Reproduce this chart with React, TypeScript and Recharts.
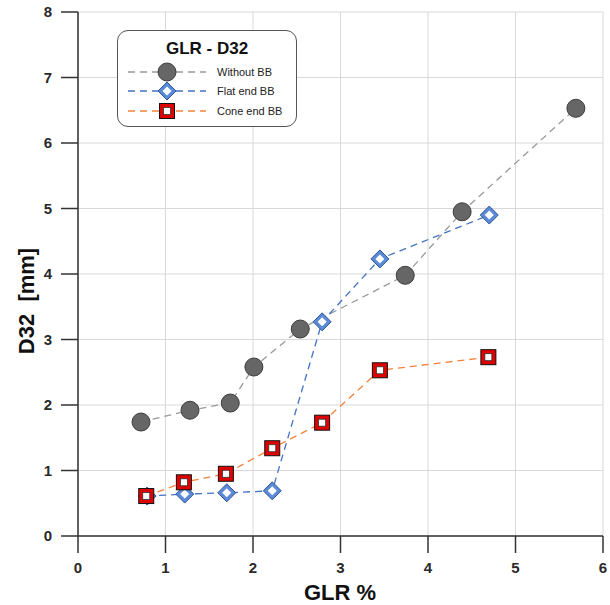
import { ScatterChart, Scatter, XAxis, YAxis, CartesianGrid, Legend, Label } from 'recharts';

// GLR % (x) and D32 mm (y) for each configuration
const withoutX = [0.72, 1.28, 1.74, 2.01, 2.54, 3.74, 4.39, 5.69];
const withoutY = [1.74, 1.92, 2.03, 2.58, 3.16, 3.98, 4.95, 6.53];

const flatX = [0.79, 1.22, 1.70, 2.22, 2.79, 3.45, 4.70];
const flatY = [0.61, 0.64, 0.66, 0.69, 3.27, 4.23, 4.90];

const coneX = [0.78, 1.21, 1.69, 2.22, 2.79, 3.45, 4.69];
const coneY = [0.61, 0.82, 0.95, 1.34, 1.73, 2.53, 2.73];

const xTicks = [0, 1, 2, 3, 4, 5, 6];
const yTicks = [0, 1, 2, 3, 4, 5, 6, 7, 8];

const toPoints = (xs: number[], ys: number[]) => xs.map((x, i) => ({ x, y: ys[i] }));

const withoutData = toPoints(withoutX, withoutY);
const flatData = toPoints(flatX, flatY);
const coneData = toPoints(coneX, coneY);

const FONT = "Arial, 'Liberation Sans', sans-serif";
const AXIS = '#333';

const Circle = ({ cx, cy }: any) => (
  <circle cx={cx} cy={cy} r={9} fill="#666" stroke="#3c3c3c" strokeWidth={1} />
);

const Diamond = ({ cx, cy }: any) => (
  <g>
    <path d={`M${cx},${cy - 9} L${cx + 9},${cy} L${cx},${cy + 9} L${cx - 9},${cy} Z`} fill="#5b8bd8" stroke="#2f5597" strokeWidth={1} />
    <path d={`M${cx},${cy - 4.5} L${cx + 4.5},${cy} L${cx},${cy + 4.5} L${cx - 4.5},${cy} Z`} fill="#fff" />
  </g>
);

const Square = ({ cx, cy }: any) => (
  <g>
    <rect x={cx - 7.5} y={cy - 7.5} width={15} height={15} fill="#e00000" stroke="#111" strokeWidth={1} />
    <rect x={cx - 3.5} y={cy - 3.5} width={7} height={7} fill="#fff" stroke="#333" strokeWidth={0.8} />
  </g>
);

const legendItems = [
  { name: 'Without BB', color: '#999', Marker: Circle },
  { name: 'Flat end BB', color: '#4472c4', Marker: Diamond },
  { name: 'Cone end BB', color: '#f4813a', Marker: Square },
];

const renderLegend = () => (
  <div
    style={{
      width: 180,
      height: 97,
      border: '1.5px solid #555',
      borderRadius: 11,
      background: '#fff',
      fontFamily: FONT,
      boxSizing: 'border-box',
    }}
  >
    <div style={{ textAlign: 'center', fontWeight: 'bold', fontSize: 17, marginTop: 8, color: '#111', lineHeight: '20px' }}>
      GLR - D32
    </div>
    <div style={{ marginTop: 3 }}>
      {legendItems.map(({ name, color, Marker }) => (
        <div key={name} style={{ display: 'flex', alignItems: 'center', height: 19.5, marginLeft: 8 }}>
          <svg width={84} height={20}>
            <line x1={2} y1={10} x2={80} y2={10} stroke={color} strokeWidth={1.3} strokeDasharray="7 5" />
            <Marker cx={41} cy={10} />
          </svg>
          <span style={{ fontSize: 11, color: '#222', marginLeft: 7 }}>{name}</span>
        </div>
      ))}
    </div>
  </div>
);

const dashed = (color: string) => ({ stroke: color, strokeWidth: 1.3, strokeDasharray: '7 5' });

const App = () => {
  return (
    <div style={{ position: 'absolute', left: 0, top: 0 }}>
      <ScatterChart width={610} height={605} margin={{ top: 12, right: 7, left: 0, bottom: 0 }}>
        <CartesianGrid stroke="#d9d9d9" strokeWidth={1} />
        <XAxis
          type="number"
          dataKey="x"
          domain={[0, 6]}
          ticks={xTicks}
          height={69}
          tickSize={17}
          tickMargin={9}
          stroke={AXIS}
          strokeWidth={1.5}
          tick={{ fill: '#2a2a2a', fontSize: 15, fontWeight: 'bold', fontFamily: FONT }}
        >
          <Label
            content={() => (
              <text
                x={340}
                y={592}
                textAnchor="middle"
                dominantBaseline="central"
                style={{ fontSize: 22, fontWeight: 'bold', fill: '#111', fontFamily: FONT }}
              >
                GLR %
              </text>
            )}
          />
        </XAxis>
        <YAxis
          type="number"
          dataKey="y"
          domain={[0, 8]}
          ticks={yTicks}
          width={78}
          tickSize={17}
          tickMargin={9}
          stroke={AXIS}
          strokeWidth={1.5}
          tick={{ fill: '#2a2a2a', fontSize: 15, fontWeight: 'bold', fontFamily: FONT }}
        >
          <Label
            content={() => (
              <text
                x={26}
                y={301}
                transform="rotate(-90, 26, 301)"
                textAnchor="middle"
                dominantBaseline="central"
                style={{ fontSize: 22, fontWeight: 'bold', fill: '#111', fontFamily: FONT, whiteSpace: 'pre' }}
              >
                D32  [mm]
              </text>
            )}
          />
        </YAxis>
        <Legend
          layout="horizontal"
          verticalAlign="middle"
          align="center"
          content={renderLegend}
          wrapperStyle={{ position: 'absolute', left: 117, top: 30, width: 180, height: 97 }}
        />
        <Scatter
          name="Without BB"
          data={withoutData}
          line={dashed('#999')}
          lineType="joint"
          shape={Circle}
          isAnimationActive={false}
        />
        <Scatter
          name="Flat end BB"
          data={flatData}
          line={dashed('#4472c4')}
          lineType="joint"
          shape={Diamond}
          isAnimationActive={false}
        />
        <Scatter
          name="Cone end BB"
          data={coneData}
          line={dashed('#f4813a')}
          lineType="joint"
          shape={Square}
          isAnimationActive={false}
        />
      </ScatterChart>
    </div>
  );
};

export default App;
